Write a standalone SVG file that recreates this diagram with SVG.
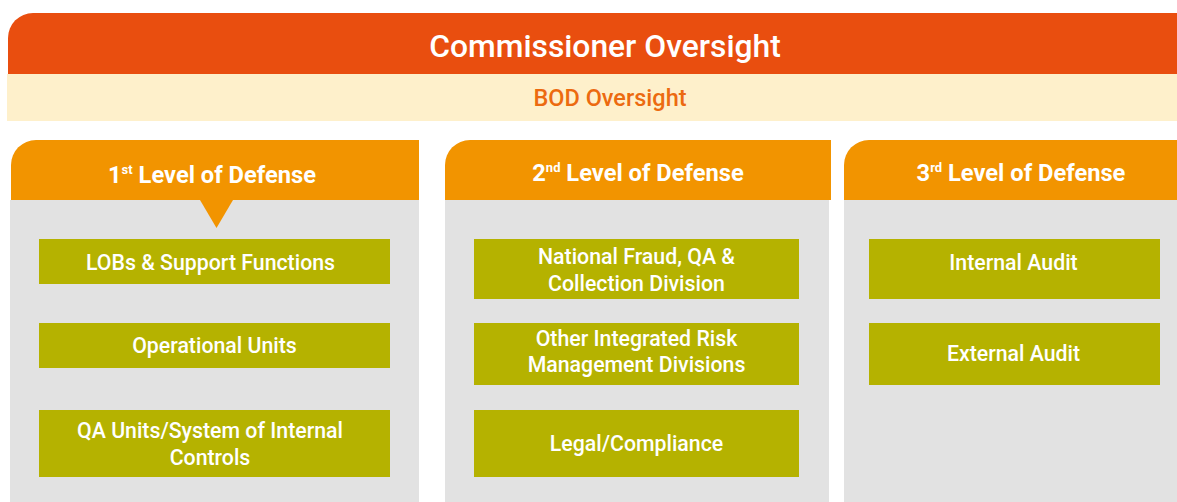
<svg xmlns="http://www.w3.org/2000/svg" width="1177" height="502" viewBox="0 0 1177 502">
  <style>
    .t { font-family: Roboto, "Liberation Sans", sans-serif; text-anchor: middle; }
    .top { fill: #E94E0F; }
    .cream { fill: #FEF0CB; }
    .hdr { fill: #F29400; }
    .body { fill: #E2E2E2; }
    .box { fill: #B5B200; }
    .title { font-size: 31.8px; font-weight: 500; fill: #FFFFFF; }
    .sub { font-size: 23.5px; font-weight: 500; fill: #EC6A10; }
    .htxt { font-size: 23.7px; font-weight: bold; fill: #FFFFFF; }
    .sup { font-size: 13px; }
    .btxt { font-size: 21.3px; font-weight: 500; fill: #FFFFFF; }
  </style>

  <!-- oversight bands -->
  <g id="commissioner-oversight">
    <path class="top" d="M8 74 V38 A25 25 0 0 1 33 13 H1177 V74 Z"/>
    <text class="t title" x="605" y="57">Commissioner Oversight</text>
  </g>
  <g id="bod-oversight">
    <rect class="cream" x="7" y="74" width="1170" height="47"/>
    <text class="t sub" x="610" y="106">BOD Oversight</text>
  </g>

  <!-- column 1 -->
  <g id="level-1">
    <rect class="body" x="10" y="200" width="409" height="302"/>
    <path class="hdr" d="M11 200 V165 A25 25 0 0 1 36 140 H419 V200 Z"/>
    <polygon class="hdr" points="200,200 233,200 216.5,228"/>
    <text class="t htxt" x="212" y="183">1<tspan class="sup" dy="-9">st</tspan><tspan dy="9"> Level of Defense</tspan></text>
  </g>
  <g id="lobs-support">
    <rect class="box" x="39" y="239" width="351" height="45"/>
    <text class="t btxt" x="210.5" y="270">LOBs &amp; Support Functions</text>
  </g>
  <g id="operational-units">
    <rect class="box" x="39" y="323" width="351" height="45"/>
    <text class="t btxt" x="214.5" y="353">Operational Units</text>
  </g>
  <g id="qa-units">
    <rect class="box" x="39" y="410" width="351" height="67"/>
    <text class="t btxt" x="210" y="438">QA Units/System of Internal</text>
    <text class="t btxt" x="210" y="465">Controls</text>
  </g>

  <!-- column 2 -->
  <g id="level-2">
    <rect class="body" x="445" y="200" width="384" height="302"/>
    <path class="hdr" d="M445 200 V165 A25 25 0 0 1 470 140 H831 V200 Z"/>
    <text class="t htxt" x="638" y="181">2<tspan class="sup" dy="-9">nd</tspan><tspan dy="9"> Level of Defense</tspan></text>
  </g>
  <g id="national-fraud">
    <rect class="box" x="474" y="239" width="325" height="60"/>
    <text class="t btxt" x="636.5" y="264">National Fraud, QA &amp;</text>
    <text class="t btxt" x="636.5" y="291">Collection Division</text>
  </g>
  <g id="other-irm">
    <rect class="box" x="474" y="323" width="325" height="62"/>
    <text class="t btxt" x="636.5" y="346">Other Integrated Risk</text>
    <text class="t btxt" x="636.5" y="372">Management Divisions</text>
  </g>
  <g id="legal-compliance">
    <rect class="box" x="474" y="410" width="325" height="67"/>
    <text class="t btxt" x="636.5" y="451">Legal/Compliance</text>
  </g>

  <!-- column 3 -->
  <g id="level-3">
    <rect class="body" x="844" y="200" width="333" height="302"/>
    <path class="hdr" d="M844 200 V165 A25 25 0 0 1 869 140 H1177 V200 Z"/>
    <text class="t htxt" x="1021" y="181">3<tspan class="sup" dy="-9">rd</tspan><tspan dy="9"> Level of Defense</tspan></text>
  </g>
  <g id="internal-audit">
    <rect class="box" x="869" y="239" width="291" height="60"/>
    <text class="t btxt" x="1013.5" y="270">Internal Audit</text>
  </g>
  <g id="external-audit">
    <rect class="box" x="869" y="323" width="291" height="62"/>
    <text class="t btxt" x="1013.5" y="361">External Audit</text>
  </g>

  <g id="connectors"/>
</svg>
